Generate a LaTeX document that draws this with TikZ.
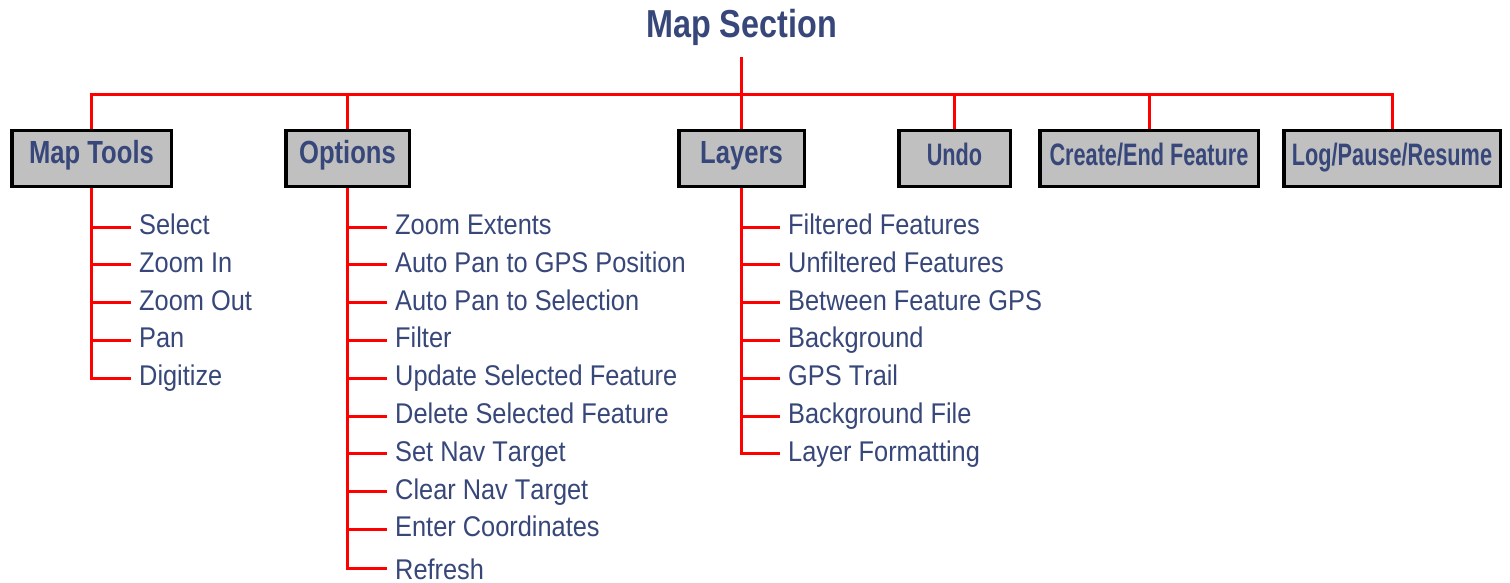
\documentclass[tikz,border=0pt]{standalone}
\usepackage{fontspec}
\setmainfont{Liberation Sans}
\newfontfamily\titlefont{Liberation Sans}[FakeStretch=0.83]
\newfontfamily\boxfontA{Liberation Sans}[FakeStretch=0.80]
\newfontfamily\boxfontB{Liberation Sans}[FakeStretch=0.70]
\newfontfamily\itemfont{Liberation Sans}[FakeStretch=0.89, Kerning=Off]
\definecolor{txtblue}{RGB}{55,71,122}
\definecolor{boxgray}{RGB}{192,192,192}
\definecolor{linered}{RGB}{255,0,0}
\begin{document}
\begin{tikzpicture}[x=1pt,y=-1pt,
  conn/.style={draw=linered, line width=3pt},
  boxbase/.style={draw=black, line width=3.5pt, fill=boxgray, minimum height=55.5pt,
    inner sep=0pt, text height=24pt, text depth=13pt, text=txtblue},
  boxA/.style={boxbase, font=\boxfontA\bfseries\fontsize{32}{38}\selectfont},
  boxB/.style={boxbase, text height=25pt, text depth=12pt, font=\boxfontB\bfseries\fontsize{31}{37}\selectfont},
  item/.style={anchor=west, inner xsep=8pt, inner ysep=0pt, text height=22pt,
    text depth=7pt, text=txtblue, font=\itemfont\fontsize{28.5}{34}\selectfont},
  titlestyle/.style={anchor=base, inner sep=0pt, text depth=19pt, text=txtblue,
    font=\titlefont\bfseries\fontsize{39}{46}\selectfont}
]
\fill[white] (0,0) rectangle (1510,583);
\useasboundingbox (0,0) rectangle (1510,583);

% title
\node[titlestyle] (title) at (741.5,38) {Map Section};

% top-level boxes
\node[boxA, minimum width=159.5pt] (mt) at (91.5,158.5) {Map Tools};
\node[boxA, minimum width=123.5pt] (opt) at (347.5,158.5) {Options};
\node[boxA, minimum width=125.5pt] (lay) at (741.5,158.5) {Layers};
\node[boxB, minimum width=111.5pt] (undo) at (954.5,158.5) {Undo};
\node[boxB, minimum width=218.5pt] (create) at (1149,158.5) {Create/End Feature};
\node[boxB, minimum width=216.5pt] (log) at (1392,158.5) {Log/Pause/Resume};

\coordinate (bus) at (741,95);

% Map Tools items
\node[item] (mt1) at (131,227)   {Select};
\node[item] (mt2) at (131,264.8) {Zoom In};
\node[item] (mt3) at (131,302.6) {Zoom Out};
\node[item] (mt4) at (131,340.4) {Pan};
\node[item] (mt5) at (131,378.2) {Digitize};

% Options items
\node[item] (op1) at (387,227)   {Zoom Extents};
\node[item] (op2) at (387,264.8) {Auto Pan to GPS Position};
\node[item] (op3) at (387,302.6) {Auto Pan to Selection};
\node[item] (op4) at (387,340.4) {Filter};
\node[item] (op5) at (387,378.2) {Update Selected Feature};
\node[item] (op6) at (387,416)   {Delete Selected Feature};
\node[item] (op7) at (387,453.8) {Set Nav Target};
\node[item] (op8) at (387,491.6) {Clear Nav Target};
\node[item] (op9) at (387,529.4) {Enter Coordinates};
\node[item, text height=26pt, text depth=4pt] (op10) at (387,568) {Refresh};

% Layers items
\node[item] (la1) at (780,227)   {Filtered Features};
\node[item] (la2) at (780,264.8) {Unfiltered Features};
\node[item] (la3) at (780,302.6) {Between Feature GPS};
\node[item] (la4) at (780,340.4) {Background};
\node[item] (la5) at (780,378.2) {GPS Trail};
\node[item] (la6) at (780,416)   {Background File};
\node[item] (la7) at (780,453.8) {Layer Formatting};

% connectors
\draw[conn] (title.south) -- (title.south |- bus);
\draw[conn] (mt.north) |- (bus) -| (log.north);
\foreach \n in {opt,lay,undo,create}
  \draw[conn] (\n.north) -- (\n.north |- bus);
\foreach \i in {1,...,5}
  \draw[conn] (mt.south) |- (mt\i.west);
\foreach \i in {1,...,10}
  \draw[conn] (opt.south) |- (op\i.west);
\foreach \i in {1,...,7}
  \draw[conn] (lay.south) |- (la\i.west);
\end{tikzpicture}
\end{document}
